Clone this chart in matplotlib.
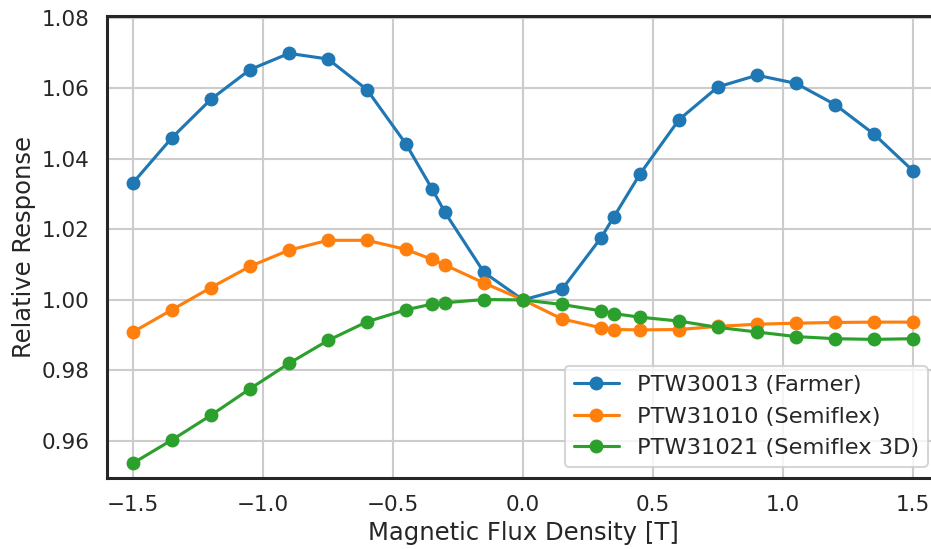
import matplotlib
matplotlib.use("Agg")
import matplotlib.pyplot as plt
import seaborn as sns

# Magnetic flux density [T]
flux = [-1.5, -1.35, -1.2, -1.05, -0.9, -0.75, -0.6, -0.45, -0.35, -0.3, -0.15, 0.0,
        0.15, 0.3, 0.35, 0.45, 0.6, 0.75, 0.9, 1.05, 1.2, 1.35, 1.5]

# Relative response of each chamber
farmer = [1.0332, 1.0460, 1.0569, 1.0653, 1.0699, 1.0683, 1.0596, 1.0442, 1.0315, 1.0248,
          1.0078, 1.0000, 1.0030, 1.0176, 1.0236, 1.0357, 1.0511, 1.0604, 1.0637, 1.0614,
          1.0554, 1.0470, 1.0366]
semiflex = [0.9909, 0.9972, 1.0035, 1.0095, 1.0141, 1.0169, 1.0169, 1.0143, 1.0115, 1.0099,
            1.0048, 1.0000, 0.9946, 0.9921, 0.9916, 0.9915, 0.9916, 0.9925, 0.9931, 0.9934,
            0.9936, 0.9937, 0.9937]
semiflex3d = [0.9537, 0.9603, 0.9673, 0.9748, 0.9820, 0.9885, 0.9938, 0.9972, 0.9988, 0.9992,
              1.0001, 1.0000, 0.9987, 0.9969, 0.9961, 0.9951, 0.9940, 0.9922, 0.9909, 0.9896,
              0.9890, 0.9888, 0.9890]

labels = ["PTW30013 (Farmer)", "PTW31010 (Semiflex)", "PTW31021 (Semiflex 3D)"]
colors = ["#1f77b4", "#ff7f0e", "#2ca02c"]
x_ticks = [-1.5, -1.0, -0.5, 0.0, 0.5, 1.0, 1.5]
y_ticks = [0.96, 0.98, 1.00, 1.02, 1.04, 1.06, 1.08]

sns.set_theme(context="talk", style="whitegrid",
              rc={"axes.edgecolor": ".15", "axes.linewidth": 2.2})
plt.rcParams["font.family"] = ["DejaVu Sans"]

fig = plt.figure(figsize=(9.31, 5.49), dpi=100)
ax = fig.add_axes([107 / 931, 71 / 549, 832 / 931, 462 / 549])

for series, label, color in zip([farmer, semiflex, semiflex3d], labels, colors):
    ax.plot(flux, series, marker="o", label=label, color=color)

ax.set_xlim(-1.6, 1.6)
ax.set_ylim(0.9495, 1.0805)
ax.set_xticks(x_ticks)
ax.set_yticks(y_ticks)
ax.set_xticklabels([f"{v:.1f}".replace("-", "\u2212") for v in x_ticks])
ax.set_yticklabels([f"{v:.2f}" for v in y_ticks])
ax.tick_params(labelsize=15.5)
ax.set_xlabel("Magnetic Flux Density [T]", fontsize=17.5)
ax.set_ylabel("Relative Response", fontsize=17.5)
ax.legend(loc="lower right", fontsize=16.2)

fig.savefig("out.png", dpi=100)
